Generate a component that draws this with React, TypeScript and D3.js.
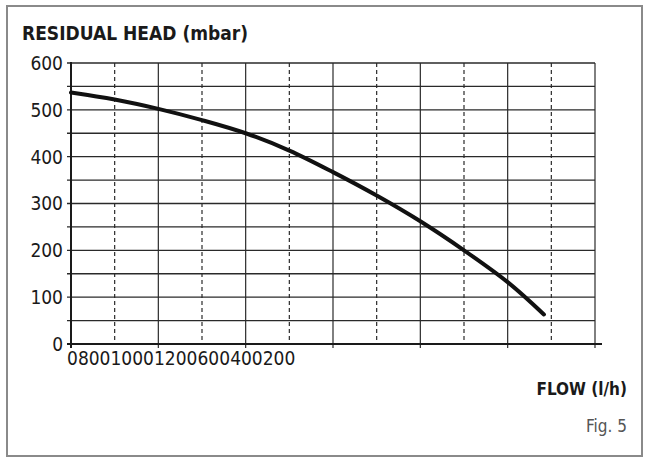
import React from "react";
import * as d3 from "d3";

const flowValues = [0, 100, 200, 300, 400, 500, 600, 700, 800, 900, 1000, 1083];
const headValues = [537, 522, 502, 478, 450, 413, 367, 317, 262, 200, 132, 63];
const yTickValues = [0, 100, 200, 300, 400, 500, 600];
const xTickLabels = ["0", "800", "1000", "1200", "600", "400", "200"];
const titleText = "RESIDUAL HEAD (mbar)";
const xTitleText = "FLOW (l/h)";
const figText = "Fig. 5";

export default function App() {
  const W = 648, H = 459;
  const x = d3.scaleLinear().domain([0, 1200]).range([71, 595]);
  const y = d3.scaleLinear().domain([0, 600]).range([344, 63]);
  const gridX = d3.range(0, 1201, 100);
  const gridY = d3.range(50, 601, 50);
  const line = d3
    .line<number>()
    .x((_, i) => x(flowValues[i]))
    .y((d) => y(d))
    .curve(d3.curveCatmullRom.alpha(0.5));
  const font = "'DejaVu Sans Condensed', 'DejaVu Sans', sans-serif";
  const grid = "#2a2a2a";
  return (
    <svg width={W} height={H} style={{ position: "absolute", left: 0, top: 0, background: "#fff" }}>
      <rect x={7} y={6} width={635} height={450} fill="#fff" stroke="#8a8a8a" strokeWidth={2} />
      <text x={22} y={40} fontFamily={font} fontWeight="bold" fontSize={19} fill="#1a1a1a">
        {titleText}
      </text>
      {gridY.map((v) => (
        <line key={"h" + v} x1={67} x2={595} y1={y(v)} y2={y(v)} stroke={grid} strokeWidth={1.3} />
      ))}
      {gridX.slice(1).map((v, i) => {
        const solid = (i + 1) % 2 === 0;
        return (
          <g key={"v" + v}>
            <line
              x1={x(v)}
              x2={x(v)}
              y1={y(600)}
              y2={y(0)}
              stroke={grid}
              strokeWidth={1.2}
              strokeDasharray={solid ? undefined : "4,3"}
            />
            {solid && <line x1={x(v)} x2={x(v)} y1={y(0)} y2={y(0) + 4} stroke={grid} strokeWidth={1.2} />}
          </g>
        );
      })}
      <line x1={x(0)} x2={x(0)} y1={y(600) - 1} y2={y(0) + 4} stroke="#1a1a1a" strokeWidth={2} />
      <line x1={67} x2={602} y1={y(0)} y2={y(0)} stroke="#1a1a1a" strokeWidth={2.2} />
      {yTickValues.map((v) => (
        <text
          key={"yl" + v}
          x={63}
          y={y(v)}
          dy="0.36em"
          textAnchor="end"
          fontFamily={font}
          fontSize={19}
          fill="#1a1a1a"
        >
          {v}
        </text>
      ))}
      <text x={67} y={365} fontFamily={font} fontSize={19} fill="#1a1a1a">
        {xTickLabels.map((t, i) => (
          <tspan key={i}>{t}</tspan>
        ))}
      </text>
      <path d={line(headValues) || ""} fill="none" stroke="#111" strokeWidth={4} strokeLinecap="round" />
      <text x={627} y={395} textAnchor="end" fontFamily={font} fontWeight="bold" fontSize={17} fill="#1a1a1a">
        {xTitleText}
      </text>
      <text x={627} y={432} textAnchor="end" fontFamily={font} fontSize={17} fill="#555">
        {figText}
      </text>
    </svg>
  );
}
